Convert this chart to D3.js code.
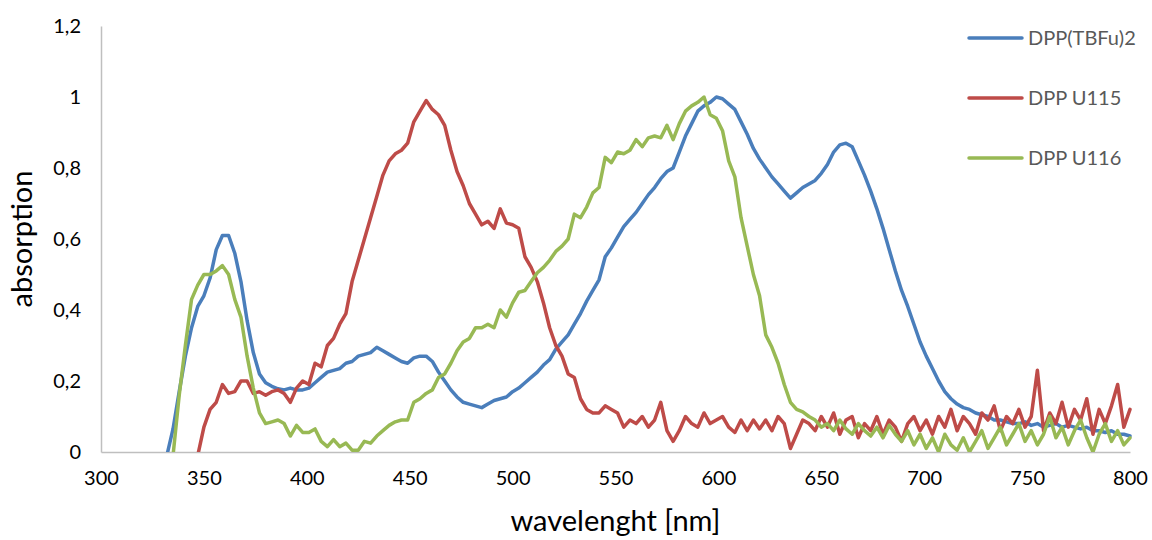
<!DOCTYPE html>
<html>
<head>
<meta charset="utf-8">
<script src="https://cdn.jsdelivr.net/npm/d3@7"></script>
<style>
  html, body { margin: 0; padding: 0; background: #ffffff; }
  svg { display: block; }
  text { font-family: Lato, "Open Sans", "DejaVu Sans", sans-serif; }
</style>
</head>
<body>
<svg id="chart" width="1152" height="540"></svg>
<script>
// ---------------- data ----------------
const seriesNames = ["DPP(TBFu)2", "DPP U115", "DPP U116"];
const xTicks = [300, 350, 400, 450, 500, 550, 600, 650, 700, 750, 800];
const yTicks = [0, 0.2, 0.4, 0.6, 0.8, 1, 1.2];
const xTitle = "wavelenght [nm]";
const yTitle = "absorption";

const wavelengths = [332,335,338,341,344,347,350,353,356,359,362,365,368,371,374,377,380,383,386,389,392,395,398,401,404,407,410,413,416,419,422,425,428,431,434,437,440,443,446,449,452,455,458,461,464,467,470,473,476,479,482,485,488,491,494,497,500,503,506,509,512,515,518,521,524,527,530,533,536,539,542,545,548,551,554,557,560,563,566,569,572,575,578,581,584,587,590,593,596,599,602,605,608,611,614,617,620,623,626,629,632,635,638,641,644,647,650,653,656,659,662,665,668,671,674,677,680,683,686,689,692,695,698,701,704,707,710,713,716,719,722,725,728,731,734,737,740,743,746,749,752,755,758,761,764,767,770,773,776,779,782,785,788,791,794,797,800];

const dppTBFu2 = [-0.01,0.065,0.17,0.27,0.35,0.41,0.44,0.49,0.57,0.61,0.61,0.56,0.48,0.37,0.28,0.22,0.195,0.185,0.178,0.175,0.18,0.175,0.175,0.18,0.195,0.21,0.225,0.23,0.235,0.25,0.255,0.27,0.275,0.28,0.295,0.285,0.275,0.265,0.255,0.25,0.265,0.27,0.27,0.255,0.225,0.2,0.175,0.155,0.14,0.135,0.13,0.125,0.135,0.145,0.15,0.155,0.17,0.18,0.195,0.21,0.225,0.245,0.26,0.29,0.31,0.33,0.36,0.39,0.425,0.455,0.485,0.55,0.575,0.605,0.635,0.655,0.675,0.7,0.725,0.745,0.77,0.79,0.8,0.845,0.89,0.925,0.96,0.975,0.985,1.0,0.995,0.98,0.965,0.93,0.895,0.855,0.825,0.8,0.775,0.755,0.735,0.715,0.73,0.745,0.755,0.765,0.785,0.81,0.845,0.865,0.87,0.86,0.82,0.78,0.735,0.685,0.63,0.57,0.51,0.455,0.41,0.36,0.31,0.27,0.235,0.2,0.17,0.15,0.135,0.125,0.12,0.11,0.105,0.1,0.09,0.09,0.085,0.08,0.08,0.085,0.075,0.08,0.07,0.075,0.08,0.07,0.075,0.07,0.065,0.07,0.06,0.06,0.055,0.06,0.05,0.05,0.045];

const dppU115 = [null,null,null,null,null,-0.01,0.07,0.12,0.14,0.19,0.165,0.17,0.2,0.2,0.165,0.17,0.16,0.17,0.175,0.165,0.14,0.18,0.2,0.19,0.25,0.24,0.3,0.32,0.36,0.39,0.48,0.54,0.6,0.66,0.72,0.78,0.82,0.84,0.85,0.87,0.93,0.96,0.99,0.965,0.95,0.92,0.85,0.79,0.75,0.7,0.67,0.64,0.65,0.63,0.685,0.645,0.64,0.63,0.55,0.52,0.48,0.42,0.35,0.3,0.27,0.22,0.21,0.15,0.12,0.11,0.11,0.13,0.12,0.11,0.07,0.09,0.08,0.1,0.07,0.09,0.14,0.06,0.03,0.06,0.1,0.08,0.07,0.11,0.08,0.09,0.1,0.07,0.055,0.09,0.06,0.09,0.065,0.09,0.06,0.1,0.08,0.01,0.05,0.09,0.08,0.06,0.1,0.07,0.11,0.05,0.09,0.1,0.04,0.08,0.06,0.1,0.05,0.09,0.07,0.03,0.08,0.1,0.06,0.09,0.05,0.1,0.07,0.12,0.06,0.1,0.08,0.05,0.11,0.09,0.13,0.06,0.1,0.08,0.12,0.07,0.1,0.23,0.06,0.11,0.08,0.14,0.07,0.12,0.09,0.15,0.05,0.12,0.08,0.13,0.19,0.07,0.12];

const dppU116 = [null,-0.01,0.16,0.3,0.43,0.47,0.5,0.5,0.51,0.525,0.5,0.43,0.38,0.27,0.18,0.11,0.08,0.085,0.09,0.08,0.045,0.075,0.055,0.055,0.065,0.03,0.015,0.035,0.015,0.025,0.005,0.005,0.03,0.025,0.045,0.06,0.075,0.085,0.09,0.09,0.14,0.15,0.165,0.175,0.21,0.22,0.25,0.285,0.31,0.32,0.35,0.35,0.36,0.35,0.4,0.38,0.42,0.45,0.455,0.48,0.505,0.52,0.54,0.565,0.58,0.6,0.67,0.66,0.69,0.73,0.745,0.83,0.815,0.845,0.84,0.85,0.88,0.86,0.885,0.89,0.885,0.92,0.88,0.925,0.96,0.975,0.985,1.0,0.95,0.94,0.905,0.82,0.775,0.66,0.58,0.5,0.44,0.33,0.295,0.25,0.19,0.14,0.12,0.113,0.1,0.09,0.07,0.08,0.06,0.09,0.065,0.05,0.08,0.06,0.045,0.07,0.04,0.075,0.05,0.03,0.06,0.02,0.05,0.01,0.04,0.0,0.05,0.02,0.005,0.04,0.0,0.03,0.06,0.01,0.04,0.07,0.02,0.05,0.08,0.03,0.06,0.02,0.05,0.1,0.04,0.07,0.02,0.06,0.09,0.04,0.0,0.05,0.08,0.03,0.06,0.02,0.04];

const seriesColors = ["#4A7EBB", "#BE4B48", "#98B954"];

// ---------------- layout ----------------
const W = 1152, H = 540;
const plot = { left: 101, right: 1130, top: 26, bottom: 452 };

const svg = d3.select("#chart");
const x = d3.scaleLinear().domain([300, 800]).range([plot.left, plot.right]);
const y = d3.scaleLinear().domain([0, 1.2]).range([plot.bottom, plot.top]);

const locale = d3.formatLocale({ decimal: ",", thousands: ".", grouping: [3], currency: ["", ""] });
const yFmt = locale.format(".1~f");

// clip
svg.append("defs").append("clipPath").attr("id", "plotClip")
  .append("rect")
  .attr("x", plot.left).attr("y", plot.top - 5)
  .attr("width", plot.right - plot.left + 4)
  .attr("height", plot.bottom - plot.top + 5);

// axes
const xAxis = d3.axisBottom(x).tickValues(xTicks).tickSize(0).tickPadding(19).tickFormat(d3.format("d"));
const gx = svg.append("g").attr("transform", `translate(0,${plot.bottom})`).call(xAxis);
gx.select(".domain").attr("stroke", "#BFBFBF").attr("stroke-width", 1.5);
gx.selectAll("text").attr("font-size", 20).attr("fill", "#000").style("font-family", "Lato, 'Open Sans', sans-serif");

const yAxis = d3.axisLeft(y).tickValues(yTicks).tickSize(0).tickPadding(20).tickFormat(yFmt);
const gy = svg.append("g").attr("transform", `translate(${plot.left},0)`).call(yAxis);
gy.select(".domain").attr("stroke", "#BFBFBF").attr("stroke-width", 1.5);
gy.selectAll("text").attr("font-size", 20).attr("fill", "#000").style("font-family", "Lato, 'Open Sans', sans-serif");

// titles
svg.append("text")
  .attr("x", (plot.left + plot.right) / 2).attr("y", 531)
  .attr("text-anchor", "middle").attr("font-size", 29).attr("fill", "#000")
  .text(xTitle);
svg.append("text")
  .attr("transform", `translate(32,${(plot.top + plot.bottom) / 2}) rotate(-90)`)
  .attr("text-anchor", "middle").attr("font-size", 29).attr("fill", "#000")
  .text(yTitle);

// lines
const seriesData = [dppTBFu2, dppU115, dppU116];
const line = d3.line()
  .defined(d => d[1] !== null)
  .x(d => x(d[0]))
  .y(d => y(d[1]));

const gLines = svg.append("g").attr("clip-path", "url(#plotClip)");
seriesData.forEach((vals, i) => {
  const pts = wavelengths.map((w, j) => [w, vals[j]]);
  gLines.append("path")
    .datum(pts)
    .attr("fill", "none")
    .attr("stroke", seriesColors[i])
    .attr("stroke-width", 3.5)
    .attr("stroke-linejoin", "round")
    .attr("stroke-linecap", "round")
    .attr("d", line);
});

// legend
const legendY = [38, 98, 158];
const lg = svg.append("g");
seriesNames.forEach((name, i) => {
  lg.append("line")
    .attr("x1", 969).attr("x2", 1022)
    .attr("y1", legendY[i]).attr("y2", legendY[i])
    .attr("stroke", seriesColors[i]).attr("stroke-width", 3.5)
    .attr("stroke-linecap", "round");
  lg.append("text")
    .attr("x", 1028).attr("y", legendY[i]).attr("dy", "0.36em")
    .attr("font-size", 20).attr("fill", "#595959")
    .text(name);
});
</script>
</body>
</html>
